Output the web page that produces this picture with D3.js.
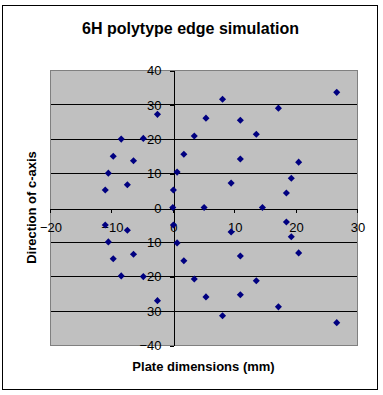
<!DOCTYPE html>
<html><head><meta charset="utf-8">
<script src="https://cdn.jsdelivr.net/npm/d3@7"></script>
<style>
body{margin:0;background:#fff;}
svg{display:block;font-family:"Liberation Sans",Arial,sans-serif;}
</style></head>
<body><svg id="c" width="383" height="395"></svg>
<script>
const title = "6H polytype edge simulation";
const xTitle = "Plate dimensions (mm)";
const yTitle = "Direction of c-axis";
const xTicks = [-20, -10, 0, 10, 20, 30];
const yTicks = [-40, -30, -20, -10, 0, 10, 20, 30, 40];
const gridValues = [-30, -20, -10, 10, 20, 30];
const xValues = [
  -2.5, 5.4, -8.4, -4.8, 3.5, -9.7, -6.4, 1.8, -10.5, 0.7, -7.4, -11.0, 0.1,
  26.7, 8.1, 17.2, 11.0, 13.6, 11.0, 20.5, 19.3, 9.5, 18.5,
  0.0, 5.1, 14.6,
  -11.0, -7.4, 0.1, -10.5, 0.7, -6.4, -9.7, 1.8, -8.4, -4.8, 3.5, -2.5, 5.4,
  18.5, 9.5, 19.3, 11.0, 20.5, 13.6, 11.0, 17.2, 8.1, 26.7
];
const yValues = [
  27.1, 26.0, 19.9, 20.1, 20.8, 14.9, 13.6, 15.5, 10.0, 10.3, 6.6, 5.1, 5.1,
  33.5, 31.5, 28.9, 25.4, 21.3, 14.1, 13.2, 8.5, 7.1, 4.2,
  0.0, 0.0, 0.0,
  -5.1, -6.6, -5.1, -10.0, -10.3, -13.6, -14.9, -15.5, -19.9, -20.1, -20.8, -27.1, -26.0,
  -4.2, -7.1, -8.5, -14.1, -13.2, -21.3, -25.4, -28.9, -31.5, -33.5
];

const svg = d3.select("#c");
const plot = {l: 50, r: 357, t: 70, b: 345};
const x = d3.scaleLinear().domain([-20, 30]).range([plot.l, plot.r]);
const y = d3.scaleLinear().domain([-40, 40]).range([plot.b, plot.t]);
const crisp = v => Math.round(v) + 0.5;

// outer border
svg.append("rect").attr("x", 2.5).attr("y", 5.5).attr("width", 375).attr("height", 384)
  .attr("fill", "#fff").attr("stroke", "#000").attr("stroke-width", 1);

// plot area
svg.append("rect").attr("x", plot.l + 0.5).attr("y", plot.t + 0.5)
  .attr("width", plot.r - plot.l).attr("height", plot.b - plot.t)
  .attr("fill", "#c0c0c0").attr("stroke", "#808080").attr("stroke-width", 1);

// gridlines
svg.append("g").selectAll("line").data(gridValues).join("line")
  .attr("x1", plot.l + 1).attr("x2", plot.r)
  .attr("y1", d => crisp(y(d))).attr("y2", d => crisp(y(d)))
  .attr("stroke", "#000").attr("stroke-width", 1);

// axes
const xAxis = d3.axisBottom(x).tickValues(xTicks).tickSize(4).tickSizeOuter(0).tickPadding(10)
  .tickFormat(d3.format("d"));
const gx = svg.append("g").attr("transform", `translate(0.5,${crisp(y(0))})`).call(xAxis);
const yAxis = d3.axisLeft(y).tickValues(yTicks).tickSize(4).tickSizeOuter(0).tickPadding(8)
  .tickFormat(d3.format("d"));
const gy = svg.append("g").attr("transform", `translate(${crisp(x(0))},0.5)`).call(yAxis);
[gx, gy].forEach(g => {
  g.selectAll("path,line").attr("stroke", "#000").attr("shape-rendering", "crispEdges");
  g.selectAll("text").attr("fill", "#000").attr("font-size", 13)
    .attr("font-family", "'Liberation Sans',Arial,sans-serif");
});
gx.selectAll(".tick line").attr("transform", "translate(-0.5,0)");

// points
const pts = xValues.map((v, i) => [v, yValues[i]]);
const diamond = d3.symbol().type(d3.symbolDiamond2).size(32);
svg.append("g").selectAll("path").data(pts).join("path")
  .attr("transform", d => `translate(${x(d[0])},${y(d[1])})`)
  .attr("d", diamond)
  .attr("fill", "#000080");

// titles
svg.append("text").attr("x", 190.5).attr("y", 33.5).attr("text-anchor", "middle")
  .attr("font-weight", "bold").attr("font-size", 16).text(title);
svg.append("text").attr("x", 203.5).attr("y", 371).attr("text-anchor", "middle")
  .attr("font-weight", "bold").attr("font-size", 13).text(xTitle);
svg.append("text").attr("transform", "translate(36,207.5) rotate(-90)")
  .attr("text-anchor", "middle").attr("font-weight", "bold").attr("font-size", 13).text(yTitle);
</script>
</body></html>
